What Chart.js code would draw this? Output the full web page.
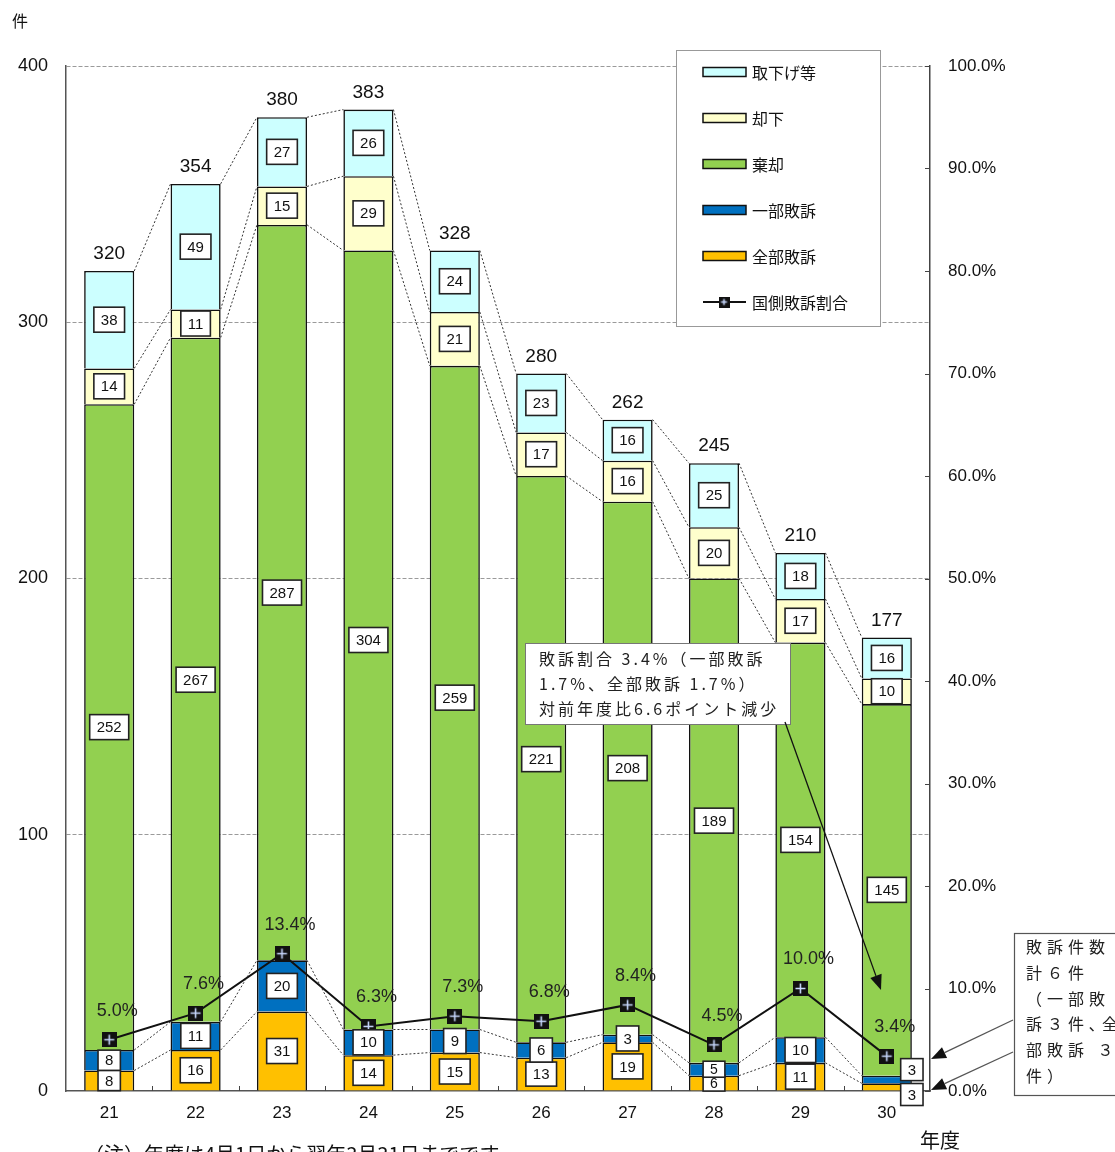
<!DOCTYPE html>
<html>
<head>
<meta charset="utf-8">
<script src="https://cdn.jsdelivr.net/npm/chart.js@4.4.0/dist/chart.umd.min.js"></script>
<style>
  html, body { margin: 0; padding: 0; background: #fff; overflow: hidden; }
  canvas { display: block; }
</style>
</head>
<body>
<canvas id="chart" width="1115" height="1152"></canvas>
<script>
// data (年度 = fiscal year, Heisei)
const years = ['21', '22', '23', '24', '25', '26', '27', '28', '29', '30'];
const zenbuHaiso = [8, 16, 31, 14, 15, 13, 19, 6, 11, 3];         // 全部敗訴
const ichibuHaiso = [8, 11, 20, 10, 9, 6, 3, 5, 10, 3];           // 一部敗訴
const kikyaku = [252, 267, 287, 304, 259, 221, 208, 189, 154, 145]; // 棄却
const kyakka = [14, 11, 15, 29, 21, 17, 16, 20, 17, 10];          // 却下
const torisage = [38, 49, 27, 26, 24, 23, 16, 25, 18, 16];        // 取下げ等
const haisoRate = [5.0, 7.6, 13.4, 6.3, 7.3, 6.8, 8.4, 4.5, 10.0, 3.4]; // 国側敗訴割合 (%)

const NUM = '"Liberation Sans", Arial, sans-serif';
const JP = '"Noto Sans CJK JP", sans-serif';

// black square with a light cross, like the excel marker
function makeMarker(s) {
  const c = document.createElement('canvas');
  c.width = s; c.height = s;
  const g = c.getContext('2d');
  g.fillStyle = '#111';
  g.fillRect(0, 0, s, s);
  g.strokeStyle = '#c9d9ff';
  g.lineWidth = 1.6;
  g.beginPath();
  g.moveTo(s / 2, 2.5); g.lineTo(s / 2, s - 2.5);
  g.moveTo(2.5, s / 2); g.lineTo(s - 2.5, s / 2);
  g.stroke();
  return c;
}
const marker = makeMarker(15);
const smallMarker = makeMarker(11);

function arrow(ctx, x1, y1, x2, y2) {
  const a = Math.atan2(y2 - y1, x2 - x1);
  const len = 15, w = 6;
  const bx = x2 - Math.cos(a) * len, by = y2 - Math.sin(a) * len;
  ctx.beginPath();
  ctx.moveTo(x1, y1);
  ctx.lineTo(bx, by);
  ctx.stroke();
  ctx.beginPath();
  ctx.moveTo(x2, y2);
  ctx.lineTo(bx + Math.sin(a) * w, by - Math.cos(a) * w);
  ctx.lineTo(bx - Math.sin(a) * w, by + Math.cos(a) * w);
  ctx.closePath();
  ctx.fill();
}

function labelBox(ctx, text, cx, cy, h) {
  ctx.font = (h < 19 ? 14 : 15) + 'px ' + NUM;
  const w = ctx.measureText(text).width + 14;
  ctx.fillStyle = '#fff';
  ctx.strokeStyle = '#222';
  ctx.lineWidth = 1.6;
  ctx.fillRect(cx - w / 2, cy - h / 2, w, h);
  ctx.strokeRect(cx - w / 2, cy - h / 2, w, h);
  ctx.fillStyle = '#111';
  ctx.textAlign = 'center';
  ctx.textBaseline = 'middle';
  ctx.fillText(text, cx, cy + 1);
}

const overlay = {
  id: 'overlay',
  afterDatasetsDraw(chart) {
    const ctx = chart.ctx;
    const area = chart.chartArea;
    const xs = chart.scales.x, y1 = chart.scales.y1;
    ctx.save();

    // dotted connectors between bars
    ctx.setLineDash([2, 2]);
    ctx.lineWidth = 1;
    ctx.strokeStyle = '#333';
    for (let d = 0; d < 5; d++) {
      const bars = chart.getDatasetMeta(d).data;
      for (let i = 0; i < bars.length - 1; i++) {
        const a = bars[i], b = bars[i + 1];
        ctx.beginPath();
        ctx.moveTo(a.x + a.width / 2, a.y);
        ctx.lineTo(b.x - b.width / 2, b.y);
        ctx.stroke();
      }
    }
    ctx.setLineDash([]);

    // inward ticks
    ctx.strokeStyle = '#444';
    ctx.lineWidth = 1;
    y1.ticks.forEach(t => {
      const py = Math.round(y1.getPixelForValue(t.value)) + 0.5;
      ctx.beginPath(); ctx.moveTo(area.right - 5, py); ctx.lineTo(area.right, py); ctx.stroke();
    });
    for (let i = 1; i < years.length; i++) {
      const px = Math.round((xs.getPixelForValue(i - 1) + xs.getPixelForValue(i)) / 2) + 0.5;
      ctx.beginPath(); ctx.moveTo(px, area.bottom - 5); ctx.lineTo(px, area.bottom); ctx.stroke();
    }

    // value boxes
    const m0 = chart.getDatasetMeta(0).data, m1 = chart.getDatasetMeta(1).data;
    for (let d = 0; d < 5; d++) {
      const ds = chart.data.datasets[d];
      chart.getDatasetMeta(d).data.forEach((bar, i) => {
        let cx = bar.x, cy = (bar.y + bar.base) / 2, h = 25;
        if (i === years.length - 1 && d < 2) {
          cx = bar.x + bar.width / 2;
          cy = d === 0 ? bar.base + 4 : bar.y - 6;
          h = 22;
        } else if (d < 2) {
          const c0 = (m0[i].y + m0[i].base) / 2, c1 = (m1[i].y + m1[i].base) / 2;
          h = Math.max(16, Math.min(25, Math.abs(c0 - c1)));
        }
        labelBox(ctx, String(ds.data[i]), cx, cy, h);
      });
    }

    // totals above bars
    ctx.font = '19px ' + NUM;
    ctx.fillStyle = '#111';
    ctx.textAlign = 'center';
    ctx.textBaseline = 'middle';
    chart.getDatasetMeta(4).data.forEach((bar, i) => {
      const total = zenbuHaiso[i] + ichibuHaiso[i] + kikyaku[i] + kyakka[i] + torisage[i];
      ctx.fillText(String(total), bar.x, bar.y - 17);
    });

    // rate labels
    ctx.font = '18px ' + NUM;
    ctx.fillStyle = '#222';
    chart.getDatasetMeta(5).data.forEach((pt, i) => {
      ctx.fillText(haisoRate[i].toFixed(1) + '%', pt.x + 8, pt.y - 29);
    });

    // legend
    ctx.fillStyle = '#fff';
    ctx.strokeStyle = '#999';
    ctx.lineWidth = 1;
    ctx.fillRect(676.5, 50.5, 204, 276);
    ctx.strokeRect(676.5, 50.5, 204, 276);
    const order = [4, 3, 2, 1, 0];
    ctx.font = '16px ' + JP;
    ctx.textAlign = 'left';
    order.forEach((d, k) => {
      const ds = chart.data.datasets[d];
      const yy = 72 + 46 * k;
      ctx.fillStyle = ds.backgroundColor;
      ctx.fillRect(703, yy - 4.5, 43, 9);
      ctx.strokeStyle = '#111';
      ctx.lineWidth = 1.5;
      ctx.strokeRect(703, yy - 4.5, 43, 9);
      ctx.fillStyle = '#111';
      ctx.fillText(ds.label, 752, yy + 1);
    });
    const ly = 72 + 46 * 5;
    ctx.strokeStyle = '#111';
    ctx.lineWidth = 2;
    ctx.beginPath(); ctx.moveTo(703, ly); ctx.lineTo(746, ly); ctx.stroke();
    ctx.drawImage(smallMarker, 724 - 5.5, ly - 5.5);
    ctx.fillStyle = '#111';
    ctx.fillText(chart.data.datasets[5].label, 752, ly + 1);

    // callout 1
    ctx.fillStyle = '#fff';
    ctx.strokeStyle = '#777';
    ctx.lineWidth = 1;
    ctx.fillRect(525.5, 643.5, 265, 81);
    ctx.strokeRect(525.5, 643.5, 265, 81);
    ctx.fillStyle = '#222';
    ctx.font = '16px ' + JP;
    ctx.letterSpacing = '3px';
    ['敗訴割合 3.4%（一部敗訴', '1.7%、全部敗訴 1.7%）', '対前年度比6.6ポイント減少']
      .forEach((t, k) => ctx.fillText(t, 539, 659 + 25 * k));
    ctx.strokeStyle = '#111';
    ctx.fillStyle = '#111';
    ctx.lineWidth = 1.3;
    arrow(ctx, 785, 722, 881, 990);

    // callout 2
    ctx.fillStyle = '#fff';
    ctx.strokeStyle = '#555';
    ctx.lineWidth = 1.2;
    ctx.fillRect(1014.5, 933.5, 120, 162);
    ctx.strokeRect(1014.5, 933.5, 120, 162);
    ctx.fillStyle = '#222';
    ctx.letterSpacing = '5px';
    ['敗訴件数', '計６件', '（一部敗', '訴３件､全', '部敗訴 ３', '件）']
      .forEach((t, k) => ctx.fillText(t, 1026, 947 + 25.8 * k));
    ctx.letterSpacing = '0px';
    ctx.fillStyle = '#111';
    ctx.lineWidth = 1.3;
    arrow(ctx, 1013, 1020, 931, 1059);
    arrow(ctx, 1013, 1052, 931, 1090);

    // axis titles and note
    ctx.font = '16px ' + JP;
    ctx.textAlign = 'left';
    ctx.fillText('件', 12, 21);
    ctx.font = '20px ' + JP;
    ctx.textAlign = 'center';
    ctx.fillText('年度', 940, 1140);
    ctx.textAlign = 'left';
    ctx.textBaseline = 'top';
    ctx.fillText('（注）年度は4月1日から翌年3月31日までです', 84, 1144);

    ctx.restore();
  }
};

function createChart() {
  Chart.defaults.font.family = NUM;
  Chart.defaults.color = '#111';

  const barStyle = { borderColor: '#111', borderWidth: 1.6, barPercentage: 0.58, categoryPercentage: 1, order: 2, yAxisID: 'y' };

  new Chart(document.getElementById('chart'), {
    type: 'bar',
    data: {
      labels: years,
      datasets: [
        { label: '全部敗訴', data: zenbuHaiso, backgroundColor: '#FFC000', ...barStyle },
        { label: '一部敗訴', data: ichibuHaiso, backgroundColor: '#0070C0', ...barStyle },
        { label: '棄却', data: kikyaku, backgroundColor: '#92D050', ...barStyle },
        { label: '却下', data: kyakka, backgroundColor: '#FFFFCC', ...barStyle },
        { label: '取下げ等', data: torisage, backgroundColor: '#CCFFFF', ...barStyle },
        {
          type: 'line', label: '国側敗訴割合', data: haisoRate, yAxisID: 'y1', order: 0,
          borderColor: '#111', borderWidth: 2, pointStyle: marker, pointRadius: 7,
          tension: 0, fill: false
        }
      ]
    },
    options: {
      responsive: false,
      animation: false,
      events: [],
      layout: { padding: { top: 66, left: 0, right: 0, bottom: 0 } },
      plugins: { legend: { display: false }, tooltip: { enabled: false } },
      scales: {
        x: {
          stacked: true,
          offset: true,
          grid: { drawOnChartArea: false, drawTicks: false },
          border: { display: true, color: '#555', width: 1.5 },
          ticks: { font: { size: 17 }, padding: 12, maxRotation: 0 },
          afterFit: s => { s.height = 61; }
        },
        y: {
          stacked: true,
          min: 0, max: 400,
          ticks: { stepSize: 100, font: { size: 18 }, padding: 18 },
          grid: {
            drawTicks: false,
            color: c => (c.tick && c.tick.value === 0 ? 'rgba(0,0,0,0)' : '#9a9a9a'),
            lineWidth: 1
          },
          border: { display: true, color: '#555', width: 1.5, dash: [4, 2] },
          afterFit: s => { s.width = 66; }
        },
        y1: {
          position: 'right',
          min: 0, max: 100,
          ticks: { stepSize: 10, font: { size: 17 }, padding: 18, callback: v => v.toFixed(1) + '%' },
          grid: { drawOnChartArea: false, drawTicks: false },
          border: { display: true, color: '#444', width: 1.5 },
          afterFit: s => { s.width = 185; }
        }
      }
    },
    plugins: [overlay]
  });
}

if (typeof Chart === 'undefined') {
  window.addEventListener('load', createChart);
} else {
  createChart();
}
</script>
</body>
</html>
